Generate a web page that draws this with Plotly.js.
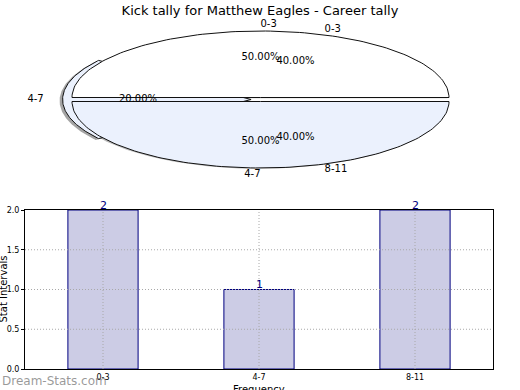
<!DOCTYPE html>
<html><head><meta charset="utf-8">
<script src="https://cdn.plot.ly/plotly-3.0.1.min.js"></script>
<style>html,body{margin:0;padding:0;background:#fff}#chart{width:520px;height:390px}</style>
</head><body><div id="chart"></div>
<script>
// ---- data ----
const categories = ['0-3', '4-7', '8-11'];
const tallyValues = [2, 1, 2];
const yTicks = [0, 0.5, 1, 1.5, 2];
// first pie (as drawn in reference)
const pie1Labels = ['0-3', '4-7'];
const pie1Values = [1, 1];
// second pie
const pie2Labels = ['0-3', '4-7', '8-11'];
const pie2Values = [2, 1, 2];
const pie1Colors = ['#ffffff', '#ebf1fd'];
const pie2Colors = ['#ffffff', '#ebf1fd', '#ffffff'];
const pie1Explode = [0.03, 0.03];
const pie2Explode = [0, 0.05, 0];

const FONT = 'DejaVu Sans, sans-serif';
const W = 520, H = 390;
// pie ellipse geometry (pixels)
const CX = 260.5, CY = 99.5, RX = 188.5, RY = 66.5, PIE_BOTTOM = 190;

function wedges(values, explode) {
  const tot = values.reduce((a, b) => a + b, 0);
  let a = 0;
  return values.map((v, i) => {
    const a0 = a, a1 = a + 360 * v / tot; a = a1;
    const mid = (a0 + a1) / 2 * Math.PI / 180;
    const ox = explode[i] * Math.cos(mid), oy = explode[i] * Math.sin(mid);
    return {a0, a1, mid, ox, oy, frac: v / tot};
  });
}
function wedgePath(w, dx, dy) {
  const xs = [w.ox + dx], ys = [w.oy + dy];
  const n = 120;
  for (let k = 0; k <= n; k++) {
    const t = (w.a0 + (w.a1 - w.a0) * k / n) * Math.PI / 180;
    xs.push(w.ox + dx + Math.cos(t)); ys.push(w.oy + dy + Math.sin(t));
  }
  xs.push(w.ox + dx); ys.push(w.oy + dy);
  return {xs, ys};
}

const traces = [];
const w1 = wedges(pie1Values, pie1Explode);
const w2 = wedges(pie2Values, pie2Explode);
const SH = -0.02;
function addWedge(w, fill, line, dx, dy) {
  const p = wedgePath(w, dx, dy);
  traces.push({type: 'scatter', mode: 'lines', x: p.xs, y: p.ys, xaxis: 'x2', yaxis: 'y2',
    fill: 'toself', fillcolor: fill, line: {color: line, width: line === 'rgba(0,0,0,0)' ? 0 : 1},
    hoverinfo: 'skip', showlegend: false});
}
// shadows
w1.forEach(w => addWedge(w, 'rgba(90,90,90,0.4)', 'rgba(0,0,0,0)', SH * 0.5, SH * 0.6));
addWedge(w2[1], 'rgba(90,90,90,0.55)', 'rgba(0,0,0,0)', SH * 0.8, SH);
// exploded 4-7 wedge of second pie
addWedge(w2[1], pie2Colors[1], '#111', 0, 0);
// first pie on top
w1.forEach((w, i) => addWedge(w, pie1Colors[i], '#111', 0, 0));

// labels
function addLabels(ws, labels) {
  ws.forEach((w, i) => {
    const c = Math.cos(w.mid), s = Math.sin(w.mid);
    traces.push({type: 'scatter', mode: 'text', x: [w.ox + 1.1 * c], y: [w.oy + 1.1 * s],
      text: [labels[i]], textposition: c > 0 ? 'middle right' : 'middle left',
      textfont: {family: FONT, size: 10, color: '#000'}, xaxis: 'x2', yaxis: 'y2',
      cliponaxis: false, hoverinfo: 'skip', showlegend: false});
    traces.push({type: 'scatter', mode: 'text', x: [w.ox + 0.6 * c], y: [w.oy + 0.6 * s],
      text: [(w.frac * 100).toFixed(2) + '%'], textposition: 'middle center',
      textfont: {family: FONT, size: 10, color: '#000'}, xaxis: 'x2', yaxis: 'y2',
      cliponaxis: false, hoverinfo: 'skip', showlegend: false});
  });
}
addLabels(w1, pie1Labels);
addLabels(w2, pie2Labels);

// bar chart
traces.push({type: 'bar', x: categories, y: tallyValues, width: 0.45,
  marker: {color: '#ccccE5', line: {color: '#000080', width: 1}},
  hoverinfo: 'skip', showlegend: false});

const gridLine = {color: '#a8a8a8', width: 1, dash: '1px,2px'};
const shapes = [];
yTicks.slice(1, -1).forEach(v => shapes.push({type: 'line', xref: 'x domain', yref: 'y',
  x0: 0, x1: 1, y0: v, y1: v, line: gridLine, layer: 'above'}));
categories.forEach(c => shapes.push({type: 'line', xref: 'x', yref: 'y domain',
  x0: c, x1: c, y0: 0, y1: 1, line: gridLine, layer: 'above'}));

const barLabels = categories.map((c, i) => ({text: String(tallyValues[i]), x: c, y: tallyValues[i],
  xref: 'x', yref: 'y', xanchor: 'center', yanchor: 'middle', yshift: 5, showarrow: false,
  font: {family: FONT, size: 11, color: '#000080'}}));

const layout = {
  width: W, height: H, margin: {l: 0, r: 0, t: 0, b: 0},
  paper_bgcolor: '#fff', plot_bgcolor: 'rgba(0,0,0,0)',
  font: {family: FONT, color: '#000'},
  title: {text: 'Kick tally for Matthew Eagles - Career tally', x: 0.5, xanchor: 'center',
    y: 1 - 10 / H, yanchor: 'middle', yref: 'paper', font: {family: FONT, size: 13, color: '#000'}},
  xaxis2: {domain: [0, 1], anchor: 'y2', range: [-CX / RX, (W - CX) / RX], visible: false, fixedrange: true},
  yaxis2: {domain: [1 - PIE_BOTTOM / H, 1], anchor: 'x2', range: [-(PIE_BOTTOM - CY) / RY, CY / RY], visible: false, fixedrange: true},
  xaxis: {domain: [25 / W, 493 / W], anchor: 'y', range: [-0.5, 2.5], type: 'category',
    showline: true, linecolor: '#000', linewidth: 1, mirror: true, showgrid: false,
    ticks: '', tickfont: {family: FONT, size: 8, color: '#000'}, zeroline: false},
  yaxis: {domain: [1 - 369 / H, 1 - 210 / H], anchor: 'x', range: [0, 2],
    tickvals: yTicks, tickformat: '.1f',
    showline: true, linecolor: '#000', linewidth: 1, mirror: true, showgrid: false,
    ticks: 'outside', ticklen: 3, tickcolor: '#000',
    tickfont: {family: FONT, size: 8, color: '#000'}, zeroline: false},
  shapes: shapes,
  annotations: barLabels.concat([
    {text: 'Stat Intervals', xref: 'paper', yref: 'paper', x: 3 / W, y: 1 - 289.5 / H,
      xanchor: 'center', yanchor: 'middle', textangle: -90, showarrow: false,
      font: {family: FONT, size: 10, color: '#000'}},
    {text: 'Frequency', xref: 'paper', yref: 'paper', x: 259 / W, y: 1 - 389 / H,
      xanchor: 'center', yanchor: 'middle', showarrow: false,
      font: {family: FONT, size: 10, color: '#000'}},
    {text: 'Dream-Stats.com', xref: 'paper', yref: 'paper', x: 0, y: 1 - 381 / H,
      xanchor: 'left', yanchor: 'middle', showarrow: false,
      font: {family: FONT, size: 12, color: 'rgba(120,120,120,0.75)'}}
  ])
};
Plotly.newPlot('chart', traces, layout, {staticPlot: true, displayModeBar: false});
</script></body></html>
